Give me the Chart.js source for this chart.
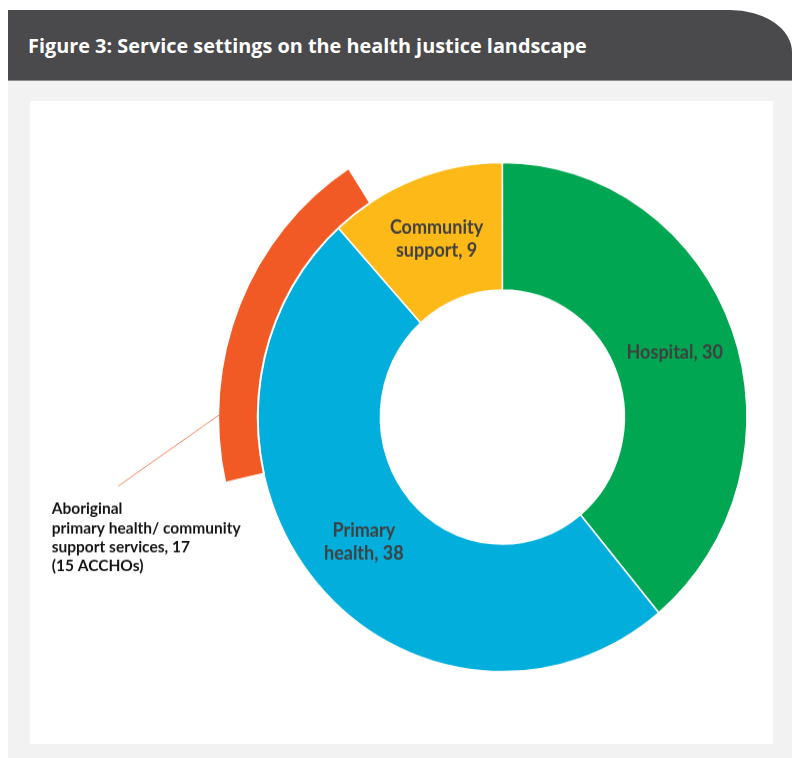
<!DOCTYPE html>
<html>
<head>
<meta charset="utf-8">
<script src="https://cdn.jsdelivr.net/npm/chart.js@4.4.1/dist/chart.umd.min.js"></script>
<style>
  html, body { margin: 0; padding: 0; width: 792px; height: 758px; overflow: hidden; background: #ffffff; }
  #bg { position: absolute; left: 8px; top: 80px; width: 784px; height: 678px; background: #f2f2f2; }
  #band { position: absolute; left: 8px; top: 10px; width: 784px; height: 71px; background: #4a4a4c;
          border-top-right-radius: 62px 42px; border-bottom: 1px solid #8c8c8c; box-sizing: border-box; }
  #title { position: absolute; left: 28px; top: 46px; transform: translateY(-50%); color: #ffffff;
           font-family: 'Open Sans', sans-serif; font-weight: 700; font-size: 19px; line-height: 1; white-space: nowrap; }
  #panel { position: absolute; left: 30px; top: 101px; width: 743px; height: 643px; background: #ffffff; }
  #chartWrap { position: absolute; left: 0; top: 0; width: 792px; height: 758px;
               transform-origin: 502.35px 417px; transform: scaleY(1.0412); }
  canvas { display: block; }
</style>
</head>
<body>
<div id="bg"></div>
<div id="band"></div>
<div id="title">Figure 3: Service settings on the health justice landscape</div>
<div id="panel"></div>
<div id="chartWrap"><canvas id="c" width="792" height="758"></canvas></div>
<script>
// ---- data ----
const categories = ['Hospital', 'Primary health', 'Community support'];
const serviceCounts = [30, 38, 9];
const categoryColors = ['#00a651', '#02aedc', '#fcb918'];

// outer ring: [before, Aboriginal services arc, after]
const outerRingValues = [55, 15, 7];
const outerRingColors = ['rgba(0,0,0,0)', '#f15a25', 'rgba(0,0,0,0)'];
const aboriginalLines = ['Aboriginal', 'primary health/ community', 'support services, 17', '(15 ACCHOs)'];

// ---- fit title width to the reference (about 559px) ----
(function fitTitle() {
  const t = document.getElementById('title');
  const w = t.getBoundingClientRect().width;
  if (w > 0) t.style.fontSize = (19 * 559 / w).toFixed(2) + 'px';
})();

// ---- layout helpers ----
const STRETCH = 1.0412, CY = 417;
const toCanvasY = y => CY + (y - CY) / STRETCH;

function labelLines(cat, val) {
  const words = cat.split(' ');
  if (words.length === 1) return [cat + ', ' + val];
  return [words[0], words.slice(1).join(' ') + ', ' + val];
}

const labelPlugin = {
  id: 'segLabels',
  afterDatasetsDraw(chart) {
    const ctx = chart.ctx;
    ctx.save();
    const meta = chart.getDatasetMeta(1);
    ctx.fillStyle = '#404040';
    ctx.font = 'bold 18px Lato, sans-serif';
    ctx.textAlign = 'center';
    ctx.textBaseline = 'middle';
    meta.data.forEach((arc, i) => {
      const p = arc.tooltipPosition();
      const lines = labelLines(categories[i], serviceCounts[i]);
      const lh = 22;
      lines.forEach((ln, k) => ctx.fillText(ln, p.x, p.y + (k - (lines.length - 1) / 2) * lh));
    });
    const oa = chart.getDatasetMeta(0).data[1];
    const sx = oa.x - (oa.outerRadius - 1), sy = oa.y - 2;
    ctx.strokeStyle = '#f58a62';
    ctx.lineWidth = 1;
    ctx.beginPath();
    ctx.moveTo(sx, sy);
    ctx.lineTo(118.3, toCanvasY(486));
    ctx.stroke();
    ctx.fillStyle = '#141414';
    ctx.font = 'bold 15.5px Lato, sans-serif';
    ctx.textAlign = 'left';
    ctx.textBaseline = 'alphabetic';
    aboriginalLines.forEach((ln, k) => ctx.fillText(ln, 51.7, toCanvasY(514.3 + k * 19)));
    ctx.restore();
  }
};

new Chart(document.getElementById('c'), {
  type: 'doughnut',
  data: {
    labels: categories,
    datasets: [
      {
        data: outerRingValues,
        backgroundColor: outerRingColors,
        borderColor: '#ffffff',
        borderWidth: [0, 2, 0],
        weight: 39.6
      },
      {
        data: serviceCounts,
        backgroundColor: categoryColors,
        borderColor: '#ffffff',
        borderWidth: 1.5,
        weight: 122.6
      }
    ]
  },
  options: {
    responsive: false,
    animation: false,
    events: [],
    radius: 284.2,
    cutout: (122 / 284.2 * 100) + '%',
    layout: { padding: { left: 220, right: 7.3, top: 100, bottom: 24 } },
    plugins: { legend: { display: false }, tooltip: { enabled: false } }
  },
  plugins: [labelPlugin]
});
</script>
</body>
</html>
